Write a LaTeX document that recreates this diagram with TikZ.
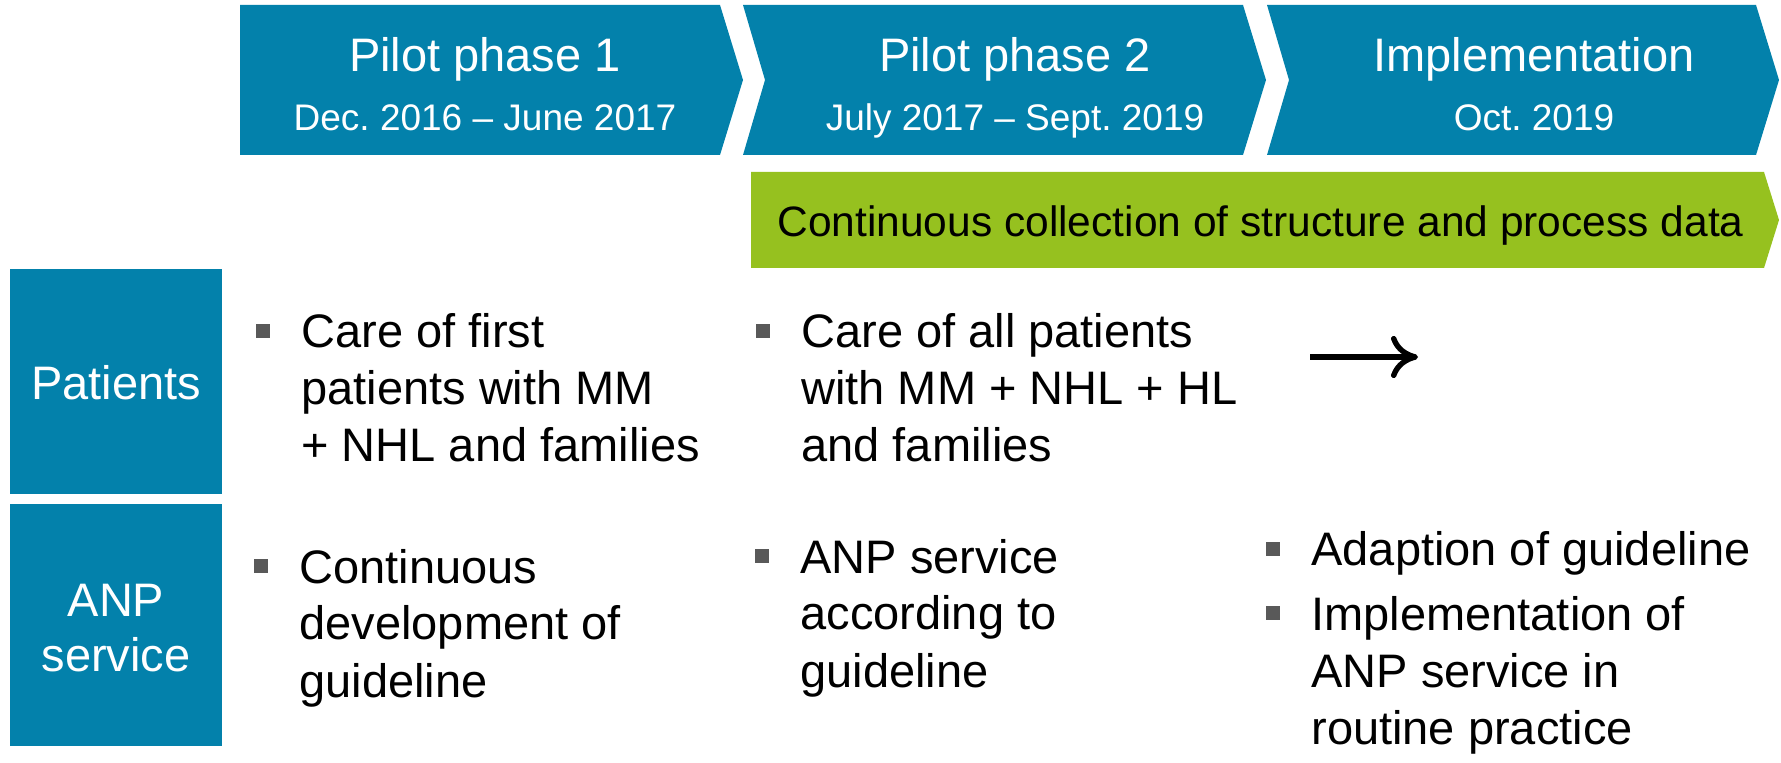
\documentclass[tikz,border=0pt]{standalone}
\usepackage{fontspec}
\setmainfont{Liberation Sans}
\frenchspacing
\usetikzlibrary{arrows.meta}
\definecolor{phaseblue}{HTML}{0381AB}
\definecolor{datagreen}{HTML}{96C11F}
\definecolor{bulletgray}{HTML}{595959}

\begin{document}
\begin{tikzpicture}[x=0.5pt,y=-0.5pt,
	phase/.style={text=white,font=\fontsize{23.5}{28.5}\selectfont,anchor=base,inner sep=0},
	period/.style={text=white,font=\fontsize{18.5}{22}\selectfont,anchor=base,inner sep=0},
	rowlabel/.style={text=white,font=\fontsize{23.5}{27.5}\selectfont,align=center,anchor=base,inner sep=0},
	bullettext/.style={font=\fontsize{23.5}{28.5}\selectfont,align=left,anchor=base west,inner sep=0}]
	\useasboundingbox (0,0) rectangle (1781,763);
	\fill[phaseblue] (240,5) -- (720,5) -- (743,80) -- (720,155) -- (240,155) -- cycle;
	\fill[phaseblue] (743,5) -- (1243,5) -- (1266,80) -- (1243,155) -- (743,155) -- (765,80) -- cycle;
	\fill[phaseblue] (1267,5) -- (1756,5) -- (1779,80) -- (1756,155) -- (1267,155) -- (1289,80) -- cycle;
	\fill[datagreen] (751,172) -- (1764,172) -- (1779,220) -- (1764,268) -- (751,268) -- cycle;
	\fill[phaseblue] (10,269) rectangle (222,494);
	\fill[phaseblue] (10,504) rectangle (222,746);
	\node[phase] (pilot1) at (485,72) {Pilot phase 1};
	\node[period] (pilot1date) at (485,131) {Dec. 2016 – June 2017};
	\node[phase] (pilot2) at (1015,72) {Pilot phase 2};
	\node[period] (pilot2date) at (1015,131) {July 2017 – Sept. 2019};
	\node[phase] (impl) at (1534,72) {Implementation};
	\node[period] (impldate) at (1534,131) {Oct. 2019};
	\node[anchor=base west,inner sep=0,font=\fontsize{21.25}{25}\selectfont] (datacoll) at (777,237) {Continuous collection of structure and process data};
	\node[rowlabel] (patients) at (116,400) {Patients};
	\node[rowlabel] (anp) at (116,671) {ANP\\service};
	\node[bullettext] (pat1) at (301,462) {Care of first\\patients with MM\\+ NHL and families};
	\node[bullettext] (pat2) at (801,462) {Care of all patients\\with MM + NHL + HL\\and families};
	\node[bullettext] (anp1) at (299,697) {Continuous\\development of\\guideline};
	\node[bullettext] (anp2) at (800,687) {ANP service\\according to\\guideline};
	\node[bullettext] (anp3) at (1311,566) {Adaption of guideline};
	\node[bullettext] (anp4) at (1311,744) {Implementation of\\ANP service in\\routine practice};
	\foreach \n/\k in {pat1/2,pat2/2,anp1/2,anp2/2,anp3/0,anp4/2}
		\fill[bulletgray] ([shift={(-45,-24-57*\k)}]\n.base west) rectangle ++(14,14);
	\coordinate (arrowstart) at (1310,357);
	\coordinate (arrowend) at (1418,357);
	\draw[line width=2.7pt,-{To[length=13.5pt,width=21pt]}] (arrowstart) -- (arrowend);
\end{tikzpicture}
\end{document}
